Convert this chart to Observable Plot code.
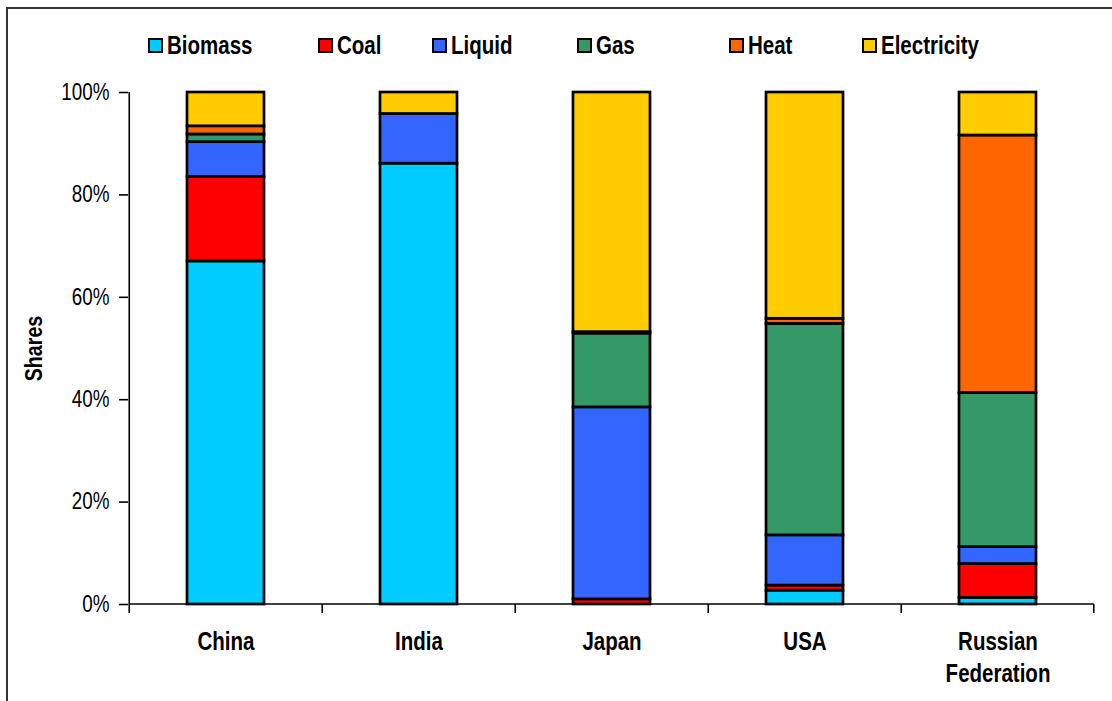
<!DOCTYPE html>
<html>
<head>
<meta charset="utf-8">
<script src="https://cdn.jsdelivr.net/npm/d3@7"></script>
<script src="https://cdn.jsdelivr.net/npm/@observablehq/plot@0.6"></script>
<style>
  html, body { margin: 0; padding: 0; background: #fff; }
  #wrap { position: relative; width: 1112px; height: 701px; overflow: hidden; background: #fff;
    font-family: "Liberation Sans", Arial, sans-serif; }
  #border { position: absolute; left: 6px; top: 7px; width: 1300px; height: 900px;
    border-left: 2px solid #333; border-top: 2px solid #333; box-sizing: border-box; }
  #legend { position: relative; height: 70px; }
  .item { position: absolute; top: 31px; display: flex; align-items: center; font-weight: bold; font-size: 25px; color: #000; }
  .sw { width: 11px; height: 11px; border: 2px solid #000; margin-right: 4px; }
  .item span { display: inline-block; transform: scaleX(0.82); transform-origin: 0 50%; }
  #chart { position: relative; }
</style>
</head>
<body>
<div id="wrap">
  <div id="border"></div>
  <div id="legend"></div>
  <div id="chart"></div>
</div>
<script>
// ---- data ----
const countries = ["China", "India", "Japan", "USA", "Russian\nFederation"];
const sources = ["Biomass", "Coal", "Liquid", "Gas", "Heat", "Electricity"];
const sourceColors = ["#00CCFF", "#FF0000", "#3366FF", "#339966", "#FF6600", "#FFCC00"];
const biomass     = [67.0, 86.1,  0.0,  2.7,  1.3];
const coal        = [16.5,  0.0,  1.0,  1.0,  6.6];
const liquid      = [ 6.8,  9.7, 37.5,  9.8,  3.3];
const gas         = [ 1.5,  0.0, 14.4, 41.3, 30.1];
const heat        = [ 1.6,  0.0,  0.3,  1.0, 50.3];
const electricity = [ 6.6,  4.2, 46.8, 44.2,  8.4];
const yTicks = [0, 20, 40, 60, 80, 100];
const yLabel = "Shares";

const series = [biomass, coal, liquid, gas, heat, electricity];
const rows = [];
countries.forEach((c, i) => {
  sources.forEach((s, j) => {
    const v = series[j][i];
    if (v > 0) rows.push({country: c, source: s, value: v});
  });
});

// ---- legend ----
const legendLeft = [148, 318, 432, 577, 729, 862];
const legend = document.getElementById("legend");
sources.forEach((s, j) => {
  const it = document.createElement("div");
  it.className = "item";
  it.style.left = legendLeft[j] + "px";
  const sw = document.createElement("div");
  sw.className = "sw";
  sw.style.background = sourceColors[j];
  it.appendChild(sw);
  const t = document.createElement("span");
  t.textContent = s;
  it.appendChild(t);
  legend.appendChild(it);
});

// ---- chart ----
const PAD = 0.6;
const axisLines = (index, scales, values, dims) => {
  const x = scales.x, y = scales.y;
  const bw = x.bandwidth();
  const step = bw / (1 - PAD);
  const g = d3.create("svg:g").attr("stroke", "#000").attr("stroke-width", 1.6);
  const y0 = y(0), y1 = y(100);
  const left = x(countries[0]) + bw / 2 - step / 2;
  const right = x(countries[countries.length - 1]) + bw / 2 + step / 2;
  g.append("line").attr("x1", left).attr("x2", left).attr("y1", y0).attr("y2", y1);
  g.append("line").attr("x1", left).attr("x2", right).attr("y1", y0).attr("y2", y0);
  const bounds = countries.map(c => x(c) + bw / 2 - step / 2).concat([right]);
  bounds.forEach(b => g.append("line").attr("x1", b).attr("x2", b).attr("y1", y0).attr("y2", y0 + 9));
  return g.node();
};

const FONT = '"Liberation Sans", Arial, sans-serif';
const plot = Plot.plot({
  width: 1112,
  height: 631,
  marginTop: 22,
  marginBottom: 97,
  marginLeft: 128,
  marginRight: 17,
  style: {fontFamily: FONT, background: "transparent", color: "#000"},
  x: {domain: countries, paddingInner: PAD, paddingOuter: PAD / 2},
  y: {domain: [0, 100]},
  color: {domain: sources, range: sourceColors},
  marks: [
    Plot.barY(rows, Plot.stackY({x: "country", y: "value", z: "source", fill: "source", order: sources,
      stroke: "#000", strokeWidth: 2.7})),
    Plot.axisY({ticks: yTicks, tickFormat: d => d + "%", tickSize: 9, tickPadding: 10, fontSize: 23,
      stroke: "#000", strokeWidth: 1.6, label: yLabel, labelAnchor: "center", labelArrow: "none", labelOffset: 104}),
    Plot.axisX({tickSize: 0, tickPadding: 23, fontSize: 25, fontWeight: "bold", label: null, lineHeight: 1.28}),
    axisLines
  ]
});
document.getElementById("chart").appendChild(plot);
plot.querySelectorAll('[aria-label="y-axis label"] text').forEach(t => {
  t.setAttribute("font-weight", "bold"); t.style.fontSize = "24px"; t.style.fontWeight = "bold";
});
// narrow the glyphs (Arial Narrow look)
plot.querySelectorAll("text").forEach(t => {
  const tr = t.getAttribute("transform");
  if (tr) {
    t.setAttribute("transform", tr + " scale(0.82,1)");
  } else {
    const x = +(t.getAttribute("x") || 0), y = +(t.getAttribute("y") || 0);
    t.removeAttribute("x"); t.removeAttribute("y");
    t.setAttribute("transform", `translate(${x},${y}) scale(0.82,1)`);
  }
});
</script>
</body>
</html>
